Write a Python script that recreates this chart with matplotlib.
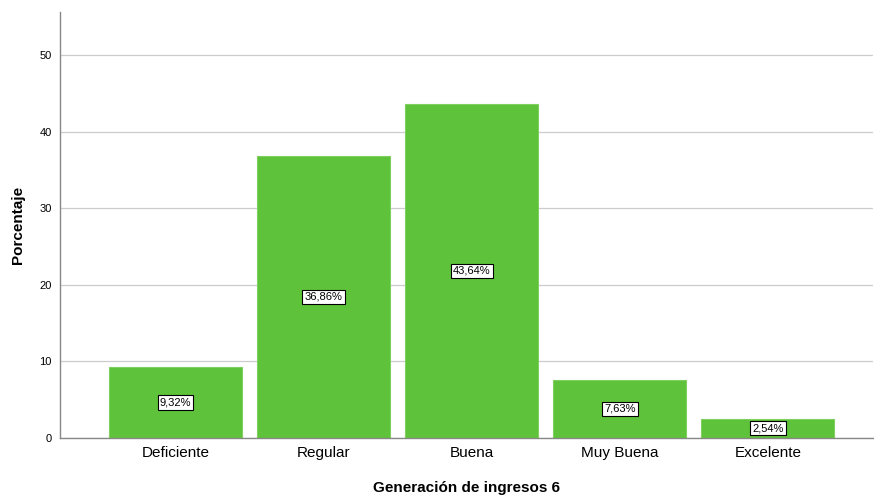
import matplotlib.pyplot as plt

plt.rcParams['font.family'] = ['Liberation Sans', 'DejaVu Sans']

categories = ["Deficiente", "Regular", "Buena", "Muy Buena", "Excelente"]
percentages = [9.32, 36.86, 43.64, 7.63, 2.54]
labels = ["9,32%", "36,86%", "43,64%", "7,63%", "2,54%"]

fig = plt.figure(figsize=(8.74, 4.95), dpi=100)
ax = fig.add_axes([60 / 874, 57 / 495, 813 / 874, 426 / 495])

x = range(len(categories))
bars = ax.bar(x, percentages, width=0.9, color="#5EC23A", edgecolor="#7FD05E",
              linewidth=0.8, zorder=2)
for rect, lab in zip(bars, labels):
    ax.text(rect.get_x() + rect.get_width() / 2, rect.get_height() / 2, lab,
            ha="center", va="center", fontsize=8, zorder=3,
            bbox=dict(boxstyle="square,pad=0.2", fc="white", ec="black", lw=0.8))

ax.set_xlim(-0.78, 4.71)
ax.set_ylim(0, 55.6)
ax.set_yticks([0, 10, 20, 30, 40, 50])
ax.set_xticks(list(x))
ax.set_xticklabels(categories, fontsize=11)
ax.tick_params(axis="y", labelsize=8, length=0, pad=6)
ax.tick_params(axis="x", length=0, pad=6)
ax.grid(axis="y", color="#cccccc", lw=0.9, zorder=0)
ax.set_axisbelow(True)
for side in ("top", "right"):
    ax.spines[side].set_visible(False)
for side in ("left", "bottom"):
    ax.spines[side].set_color("#888888")
    ax.spines[side].set_linewidth(1.0)

ax.set_ylabel("Porcentaje", fontsize=11, fontweight="bold", labelpad=10)
ax.set_xlabel("Generación de ingresos 6", fontsize=11, fontweight="bold", labelpad=15)

fig.savefig("out.png", dpi=100)
